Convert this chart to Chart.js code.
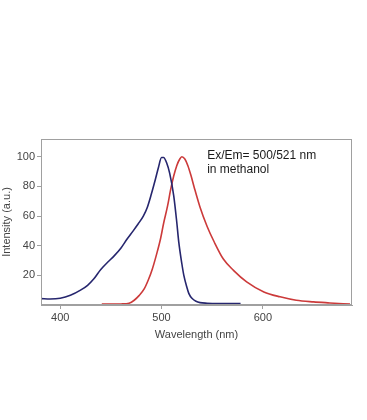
<!DOCTYPE html>
<html>
<head>
<meta charset="utf-8">
<script src="https://cdn.jsdelivr.net/npm/chart.js@4"></script>
<style>
  body { margin: 0; background: #fff; }
  #wrap { width: 367px; height: 420px; }
</style>
</head>
<body>
<div id="wrap"><canvas id="spectrum"></canvas></div>
<script>
// data
const exWave = [381, 390, 400, 410, 420, 427, 433, 440, 447, 453, 460, 466, 472, 477, 482, 486, 490, 494, 497, 500, 502, 505, 508, 512, 515, 517, 520, 522, 525, 527, 530, 534, 538, 545, 555, 565, 578];
const exVals = [4.3, 4, 4.5, 6.5, 10, 13.3, 17.5, 24, 29, 33, 38.5, 44.5, 50, 54.8, 60, 66, 75, 85, 93, 99.5, 99.5, 96, 89, 73.8, 56, 42.4, 28, 20, 12, 7.7, 4.5, 2.5, 1.6, 1.2, 1, 1, 1];

const emWave = [441, 450, 460, 468, 473, 478, 483, 487, 491, 495, 499, 502, 506, 509, 512, 515, 518, 520, 523, 526, 529, 532, 538, 545, 552, 561, 571, 584, 601, 617, 633, 650, 666, 686];
const emVals = [0.6, 0.6, 0.7, 1.2, 3.2, 6.5, 11, 17, 24.5, 34, 44.7, 55, 67, 78, 87, 94, 98.5, 100, 98.5, 94, 87.5, 80, 66, 53, 42.5, 31, 23.4, 15.6, 8.8, 5.5, 3.2, 2.1, 1.4, 0.6];

const xTicks = [400, 500, 600];
const yTicks = [20, 40, 60, 80, 100];

function toPoints(xs, ys) {
  return xs.map((x, i) => ({ x: x, y: ys[i] }));
}

// frame round the plot area and the little note
const framePlugin = {
  id: 'frame',
  afterDraw(chart) {
    const ctx = chart.ctx;
    const a = chart.chartArea;
    ctx.save();
    ctx.strokeStyle = '#a0a0a0';
    ctx.lineWidth = 1;
    ctx.strokeRect(a.left + 0.5, a.top + 0.5, a.right - a.left - 1, a.bottom - a.top - 1);
    ctx.fillStyle = '#1a1a1a';
    ctx.font = '12px "Liberation Sans", Arial, sans-serif';
    ctx.textBaseline = 'top';
    const x = chart.scales.x.getPixelForValue(545);
    const y = chart.scales.y.getPixelForValue(104.5);
    ctx.fillText('Ex/Em= 500/521 nm', x, y);
    ctx.fillText('in methanol', x, y + 14);
    ctx.restore();
  }
};

const font = { family: '"Liberation Sans", Arial, sans-serif', size: 11 };

new Chart('spectrum', {
  type: 'line',
  data: {
    datasets: [{
      label: 'Excitation',
      data: toPoints(exWave, exVals),
      borderColor: '#26266e',
      borderWidth: 1.6,
      pointRadius: 0,
      cubicInterpolationMode: 'monotone'
    }, {
      label: 'Emission',
      data: toPoints(emWave, emVals),
      borderColor: '#cc3a3a',
      borderWidth: 1.6,
      pointRadius: 0,
      cubicInterpolationMode: 'monotone'
    }]
  },
  options: {
    responsive: true,
    maintainAspectRatio: false,
    animation: false,
    layout: { padding: { top: 139, right: 15, bottom: 78, left: 0 } },
    plugins: {
      legend: { display: false },
      tooltip: { enabled: false }
    },
    scales: {
      x: {
        type: 'linear',
        min: 381,
        max: 688,
        afterBuildTicks: (axis) => { axis.ticks = xTicks.map(v => ({ value: v })) },
        afterFit: (axis) => { axis.height = 37 },
        grid: { drawOnChartArea: false, drawTicks: true, tickLength: 4, color: '#a0a0a0' },
        border: { display: true, color: '#a0a0a0' },
        ticks: { color: '#444', font: font, padding: 2, maxRotation: 0 },
        title: { display: true, text: 'Wavelength (nm)', color: '#444', font: font, padding: { top: 1, bottom: 0 } }
      },
      y: {
        min: 0,
        max: 112,
        afterBuildTicks: (axis) => { axis.ticks = yTicks.map(v => ({ value: v })) },
        afterFit: (axis) => { axis.width = 41 },
        grid: { drawOnChartArea: false, drawTicks: true, tickLength: 4, color: '#a0a0a0' },
        border: { display: true, color: '#a0a0a0' },
        ticks: { color: '#444', font: font, padding: 2 },
        title: { display: true, text: 'Intensity (a.u.)', color: '#444', font: font, padding: 0 }
      }
    }
  },
  plugins: [framePlugin]
});
</script>
</body>
</html>
